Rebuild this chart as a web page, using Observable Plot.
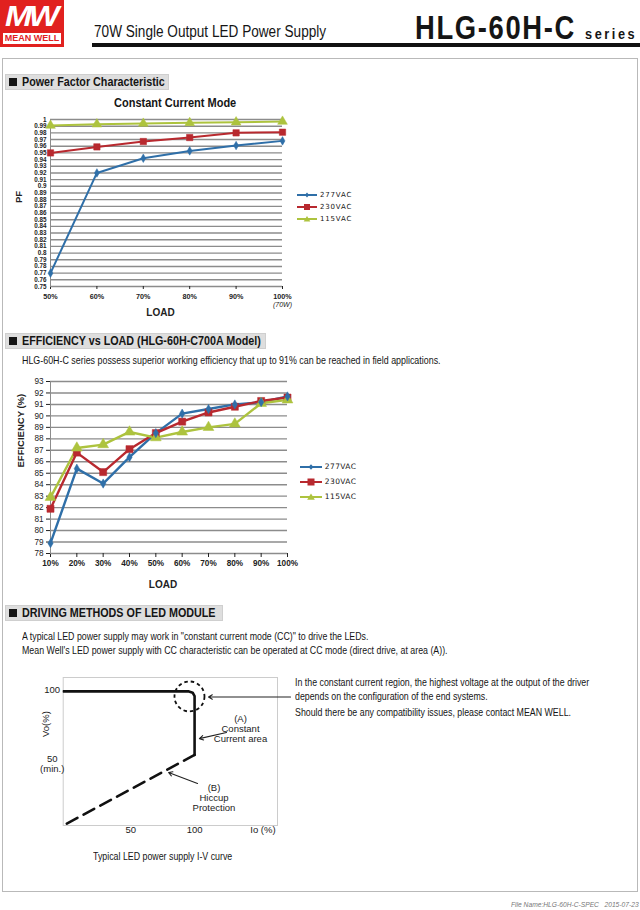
<!DOCTYPE html>
<html><head><meta charset="utf-8">
<script src="https://cdn.jsdelivr.net/npm/d3@7"></script>
<script src="https://cdn.jsdelivr.net/npm/@observablehq/plot@0.6"></script>
<style>
body{margin:0;background:#fff;}
#page{position:relative;width:640px;height:910px;overflow:hidden;font-family:"Liberation Sans",Arial,sans-serif;color:#151515;}
.abs{position:absolute;white-space:nowrap;transform-origin:0 0;}
.sec{position:absolute;left:5px;height:16px;background:#dedede;border:1px solid #cfcfcf;box-sizing:border-box;font-weight:bold;font-size:12.5px;line-height:15px;padding-left:3px;white-space:nowrap;overflow:hidden;}
.sec span.sq{display:inline-block;width:8px;height:8px;background:#151515;margin-right:5px;vertical-align:0px;}
.sec span.t{display:inline-block;transform:scaleX(0.86);transform-origin:0 50%;}
.txt{font-size:10.5px;line-height:13px;transform:scaleX(0.84);}
.leg{position:absolute;font-family:"DejaVu Sans","Liberation Sans",sans-serif;}
.leg div{height:12px;line-height:12px;white-space:nowrap;}
.leg svg{vertical-align:middle;}
</style></head>
<body>
<div id="page">
  <!-- logo -->
  <div class="abs" style="left:0;top:0;width:64px;height:47px;background:#e1211f;">
    <div style="position:absolute;left:5px;top:1px;font:italic bold 29px/30px 'Liberation Sans';color:#fff;letter-spacing:-3px;transform:scaleX(1.12);transform-origin:0 0;">MW</div>
    <div style="position:absolute;left:3px;top:33px;width:58px;height:11px;background:#fff;text-align:center;font:bold 9px/11px 'Liberation Sans';color:#e1211f;">MEAN WELL</div>
  </div>
  <!-- header -->
  <div class="abs" style="left:94px;top:23px;font-size:16px;line-height:18px;transform:scaleX(0.85);">70W Single Output LED Power Supply</div>
  <div class="abs" style="left:415px;top:10px;font-size:33px;line-height:36px;font-weight:bold;letter-spacing:2px;transform:scaleX(0.83);">HLG-60H-C</div>
  <div class="abs" style="left:585px;top:25px;font-size:15px;line-height:18px;font-weight:bold;letter-spacing:3px;transform:scaleX(0.85);">series</div>
  <div class="abs" style="left:92px;top:43px;width:548px;height:4px;background:#111;"></div>
  <!-- frame -->
  <div class="abs" style="left:2px;top:58px;width:636px;height:834px;border:1px solid #b9b9b9;box-sizing:border-box;"></div>

  <div class="sec" style="top:74px;width:164px;"><span class="sq"></span><span class="t">Power Factor Characteristic</span></div>
  <div class="abs" style="left:114px;top:96px;font-size:12.5px;line-height:15px;font-weight:bold;transform:scaleX(0.88);">Constant Current Mode</div>
  <div id="pf" class="abs" style="left:0;top:108px;"></div>
  <div id="pfleg" class="leg" style="left:297px;top:189px;font-size:7px;letter-spacing:0.8px;"></div>

  <div class="sec" style="top:333px;width:261px;"><span class="sq"></span><span class="t">EFFICIENCY vs LOAD (HLG-60H-C700A Model)</span></div>
  <div class="abs txt" style="left:22px;top:354px;transform:scaleX(0.846);">HLG-60H-C series possess superior working efficiency that up to 91% can be reached in field applications.</div>
  <div id="eff" class="abs" style="left:0;top:372px;"></div>
  <div id="effleg" class="leg" style="left:300px;top:459px;font-size:7.5px;letter-spacing:0.4px;"></div>

  <div class="sec" style="top:605px;width:218px;"><span class="sq"></span><span class="t">DRIVING METHODS OF LED MODULE</span></div>
  <div class="abs txt" style="left:22px;top:630px;">A typical LED power supply may work in "constant current mode (CC)" to drive the LEDs.</div>
  <div class="abs txt" style="left:22px;top:644px;">Mean Well's LED power supply with CC characteristic can be operated at CC mode (direct drive, at area (A)).</div>
  <div id="iv" class="abs" style="left:30px;top:670px;"></div>
  <div class="abs txt" style="left:295px;top:676px;">In the constant current region, the highest voltage at the output of the driver</div>
  <div class="abs txt" style="left:295px;top:690px;">depends on the configuration of the end systems.</div>
  <div class="abs txt" style="left:295px;top:706px;">Should there be any compatibility issues, please contact MEAN WELL.</div>
  <div class="abs txt" style="left:93px;top:850px;">Typical LED power supply I-V curve</div>

  <div class="abs" style="left:511px;top:900px;font-size:7.5px;line-height:10px;font-style:italic;color:#777;transform:scaleX(0.89);">File Name:HLG-60H-C-SPEC&nbsp;&nbsp;&nbsp;2015-07-23</div>
</div>
<script>
// ---------- data ----------
const series = ["277VAC", "230VAC", "115VAC"];
const seriesColors = ["#2f6fa8", "#b8292f", "#adc33e"];
const seriesSymbols = ["diamond", "square", "triangle"];

const pfLoad = [50, 60, 70, 80, 90, 100];
const pf277 = [0.770, 0.920, 0.942, 0.953, 0.961, 0.968];
const pf230 = [0.950, 0.959, 0.967, 0.973, 0.980, 0.981];
const pf115 = [0.991, 0.993, 0.994, 0.995, 0.996, 0.997];
const pfTicks = [0.75, 0.76, 0.77, 0.78, 0.79, 0.8, 0.81, 0.82, 0.83, 0.84, 0.85, 0.86, 0.87,
                 0.88, 0.89, 0.9, 0.91, 0.92, 0.93, 0.94, 0.95, 0.96, 0.97, 0.98, 0.99, 1];
const pfLoadNote = [{load: 100, text: "(70W)"}];

const effLoad = [10, 20, 30, 40, 50, 60, 70, 80, 90, 100];
const eff277 = [78.9, 85.4, 84.1, 86.4, 88.5, 90.2, 90.6, 91.0, 91.2, 91.7];
const eff230 = [81.9, 86.8, 85.1, 87.1, 88.5, 89.5, 90.3, 90.8, 91.3, 91.6];
const eff115 = [82.9, 87.2, 87.5, 88.6, 88.1, 88.6, 89.0, 89.3, 91.1, 91.4];
const effTicks = [78, 79, 80, 81, 82, 83, 84, 85, 86, 87, 88, 89, 90, 91, 92, 93];

// I-V diagram (Io %, Vo %)
const ivSolid = [{io: -3, vo: 100}, {io: 95, vo: 100}, {io: 98.5, vo: 99}, {io: 100, vo: 96.5}, {io: 100, vo: 54}];
const ivHiccup = [{io: 100, vo: 54}, {io: -3, vo: 3}];
const ivCircle = [{io: 96, vo: 96.3}];
const ivArrows = [
  {x1: 175.2, y1: 95.9, x2: 110.9, y2: 95.9},
  {x1: 125.0, y1: 70.2, x2: 103.8, y2: 65.8},
  {x1: 102.3, y1: 33.4, x2: 79.6, y2: 41.3}
];
const ivNotes = [
  {io: 136, vo: 73.1, text: "(A)\nConstant\nCurrent area"},
  {io: 115.2, vo: 23.2, text: "(B)\nHiccup\nProtection"}
];
const ivXTicks = [{v: 50, label: "50"}, {v: 100, label: "100"}, {v: 153.6, label: "Io (%)"}];
const ivYTicks = [{v: 100, label: "100"}, {v: 50, label: "50\n(min.)"}];
const ivYTitle = [{v: 67, label: "Vo(%)"}];

// ---------- build rows ----------
function rows(xs, ys, name) { return xs.map((x, i) => ({load: x, value: ys[i], series: name})); }
const pfRows = [...rows(pfLoad, pf277, series[0]), ...rows(pfLoad, pf230, series[1]), ...rows(pfLoad, pf115, series[2])];
const effRows = [...rows(effLoad, eff277, series[0]), ...rows(effLoad, eff230, series[1]), ...rows(effLoad, eff115, series[2])];

const sans = "'Liberation Sans', Arial, sans-serif";

// ---------- PF chart ----------
const pf = Plot.plot({
  width: 296, height: 214,
  marginTop: 11, marginBottom: 36, marginLeft: 50, marginRight: 14,
  style: {fontFamily: sans, fontSize: "7.2px", color: "#222", background: "transparent", overflow: "visible"},
  x: {domain: [50, 100]},
  y: {domain: [0.75, 1]},
  color: {domain: series, range: seriesColors},
  symbol: {domain: series, range: seriesSymbols},
  r: {type: "identity"},
  marks: [
    Plot.gridY(pfTicks, {stroke: "#8c8c8c", strokeOpacity: 1, strokeWidth: 1.4}),
    Plot.axisY({ticks: pfTicks, tickSize: 0, tickPadding: 4, fontWeight: "bold", fontSize: 6.3, label: null,
      tickFormat: d => String(+d.toFixed(2))}),
    Plot.axisX({ticks: pfLoad, tickSize: 3, tickPadding: 4, fontWeight: "bold", label: null,
      tickFormat: d => d + "%"}),
    Plot.frame({anchor: "left", stroke: "#8c8c8c"}),
    Plot.text(pfLoadNote, {x: "load", text: "text", frameAnchor: "bottom", lineAnchor: "top", dy: 16, fontSize: 7, fontStyle: "italic"}),
    Plot.text(["LOAD"], {frameAnchor: "bottom", lineAnchor: "top", dy: 22, dx: -6, fontSize: 10, fontWeight: "bold"}),
    Plot.text(["PF"], {frameAnchor: "left", rotate: -90, dx: -32, fontSize: 9.5, fontWeight: "bold"}),
    Plot.line(pfRows, {x: "load", y: "value", z: "series", stroke: "series", strokeWidth: 2}),
    Plot.dot(pfRows, {x: "load", y: "value", fill: "series", symbol: "series", r: d => d.series === "277VAC" ? 2.6 : 3.6, stroke: "series", strokeWidth: 0.5})
  ]
});
document.getElementById("pf").append(pf);

// ---------- Efficiency chart ----------
const eff = Plot.plot({
  width: 302, height: 221,
  marginTop: 9, marginBottom: 40, marginLeft: 50, marginRight: 15,
  style: {fontFamily: sans, fontSize: "8.2px", color: "#222", background: "transparent", overflow: "visible"},
  x: {domain: [10, 100]},
  y: {domain: [78, 93]},
  color: {domain: series, range: seriesColors},
  symbol: {domain: series, range: seriesSymbols},
  r: {type: "identity"},
  marks: [
    Plot.gridY(effTicks, {stroke: "#8c8c8c", strokeOpacity: 1, strokeWidth: 1.4}),
    Plot.axisY({ticks: effTicks, tickSize: 4, tickPadding: 3, label: null, tickFormat: d => String(d)}),
    Plot.axisX({ticks: effLoad, tickSize: 4, tickPadding: 3, label: null, tickFormat: d => d + "%", fontWeight: "bold"}),
    Plot.frame({anchor: "left", stroke: "#8c8c8c"}),
    Plot.text(["LOAD"], {frameAnchor: "bottom", lineAnchor: "top", dy: 27, dx: -6, fontSize: 10, fontWeight: "bold"}),
    Plot.text(["EFFICIENCY (%)"], {frameAnchor: "left", rotate: -90, dx: -30, fontSize: 9.5, fontWeight: "bold"}),
    Plot.line(effRows, {x: "load", y: "value", z: "series", stroke: "series", strokeWidth: 2.4}),
    Plot.dot(effRows, {x: "load", y: "value", fill: "series", symbol: "series", r: d => d.series === "277VAC" ? 2.8 : 4, stroke: "series", strokeWidth: 0.5})
  ]
});
document.getElementById("eff").append(eff);

// ---------- legends ----------
function legend(id, w, mk, rowH) {
  const el = document.getElementById(id);
  series.forEach((s, i) => {
    const row = document.createElement("div");
    row.style.height = rowH + "px";
    row.style.lineHeight = rowH + "px";
    const sym = i === 0
      ? `<path d="M${w/2} ${6-mk*0.8} L${w/2+mk*0.7} 6 L${w/2} ${6+mk*0.8} L${w/2-mk*0.7} 6Z" fill="${seriesColors[i]}"/>`
      : i === 1
      ? `<rect x="${w/2-mk}" y="${6-mk}" width="${2*mk}" height="${2*mk}" fill="${seriesColors[i]}"/>`
      : `<path d="M${w/2} ${6-mk} L${w/2+mk*1.1} ${6+mk*0.8} L${w/2-mk*1.1} ${6+mk*0.8}Z" fill="${seriesColors[i]}"/>`;
    row.innerHTML = `<svg width="${w}" height="12"><line x1="0" x2="${w}" y1="6" y2="6" stroke="${seriesColors[i]}" stroke-width="2"/>${sym}</svg> ${s}`;
    el.append(row);
  });
}
legend("pfleg", 20, 3, 12);
legend("effleg", 22, 3.5, 15);

// ---------- I-V curve ----------
const iv = Plot.plot({
  width: 262, height: 170,
  marginTop: 7, marginBottom: 15, marginLeft: 32.7, marginRight: 15,
  style: {fontFamily: sans, fontSize: "9.5px", color: "#222", background: "transparent", overflow: "visible"},
  x: {domain: [-3, 165], axis: null},
  y: {domain: [3, 110], axis: null},
  marks: [
    Plot.frame({stroke: "#cccccc"}),
    Plot.line(ivSolid, {x: "io", y: "vo", strokeWidth: 2.6, stroke: "#111", clip: true}),
    Plot.line(ivHiccup, {x: "io", y: "vo", strokeWidth: 2.6, stroke: "#111", strokeDasharray: "12,7", clip: true}),
    Plot.dot(ivCircle, {x: "io", y: "vo", r: 15, stroke: "#111", strokeWidth: 1.8, strokeDasharray: "3.5,3"}),
    Plot.arrow(ivArrows, {x1: "x1", y1: "y1", x2: "x2", y2: "y2", headLength: 6, strokeWidth: 1.1, stroke: "#222"}),
    Plot.text(ivNotes, {x: "io", y: "vo", text: "text", lineHeight: 1.05}),
    Plot.text(ivXTicks, {x: "v", text: "label", frameAnchor: "bottom", lineAnchor: "top", dy: 1}),
    Plot.text(ivYTicks, {y: "v", text: "label", frameAnchor: "left", textAnchor: "middle", lineAnchor: "top", dy: -5, dx: -11}),
    Plot.text(ivYTitle, {y: "v", text: "label", frameAnchor: "left", rotate: -90, dx: -17})
  ]
});
document.getElementById("iv").append(iv);
</script>
</body></html>
